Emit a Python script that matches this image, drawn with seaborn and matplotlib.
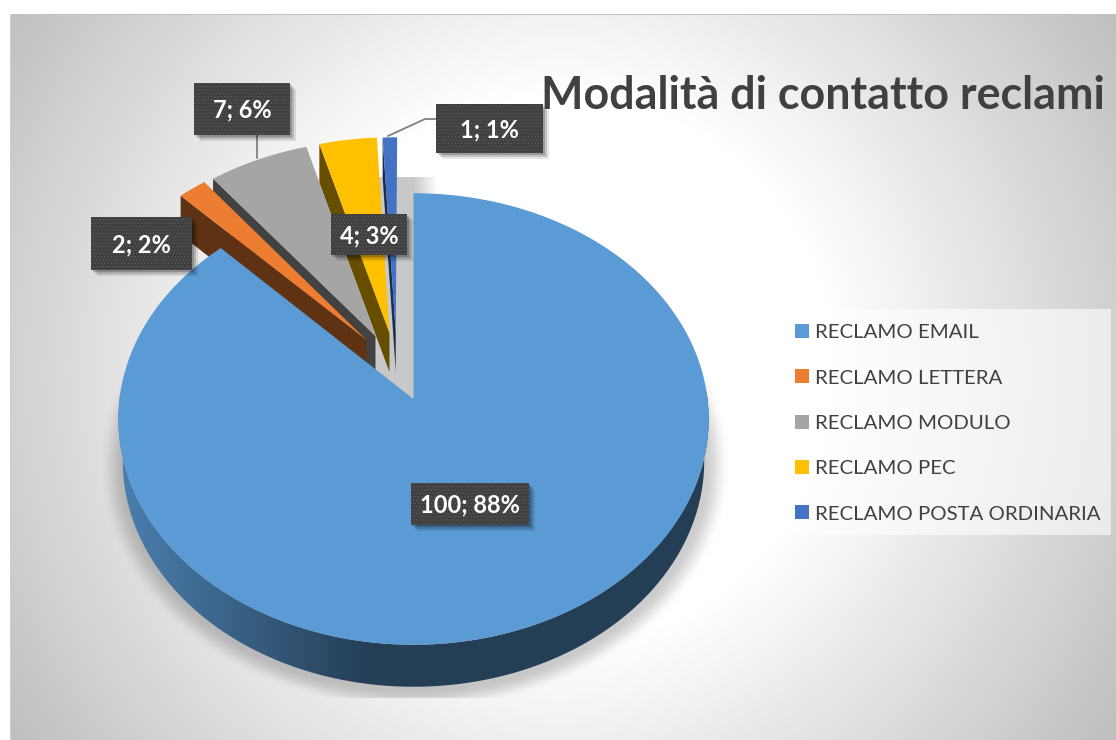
import numpy as np
import seaborn as sns
import matplotlib.pyplot as plt
from matplotlib.patches import Patch, Polygon, Rectangle

categories = ['RECLAMO EMAIL', 'RECLAMO LETTERA', 'RECLAMO MODULO', 'RECLAMO PEC', 'RECLAMO POSTA ORDINARIA']
values = [100, 2, 7, 4, 1]
percents = [88, 2, 6, 3, 1]
hex_colors = ['#5B9BD5', '#ED7D31', '#A5A5A5', '#FFC000', '#4472C4']
title = 'Modalità di contatto reclami'

# exploded slice apexes on the unit disc, before the tilt
apexes = [(0, 0), (-0.164, 0.27), (-0.1325, 0.288), (-0.084, 0.303), (-0.062, 0.303)]
# label boxes: left, top, right, bottom in pixels
boxes = [(411, 483, 529, 525), (91, 217, 192, 270), (194, 83, 290, 135), (331, 214, 407, 255), (436, 104, 543, 153)]

W, H = 1116, 740
CX, CY, A, B, K = 413.5, 399, 294, 224, 0.0885
DEPTH = 39

sns.set_theme(style='white')
plt.rcParams['font.family'] = ['Lato', 'DejaVu Sans']
plt.rcParams['hatch.linewidth'] = 0.6
palette = sns.color_palette(hex_colors)

fig = plt.figure(figsize=(W / 100, H / 100), dpi=100)
ax = fig.add_axes([0, 0, 1, 1])

# pie gives the angles, the tilt is applied afterwards
wedges, _ = ax.pie(values, startangle=90, counterclock=False)
angles = [(w.theta1, w.theta2) for w in wedges]
for w in wedges:
    w.remove()


def project(u, v):
    d = 1 + K * v
    return CX + A * u / d, CY - B * v / d


def arc(apex, t1, t2, n=200):
    t = np.radians(np.linspace(t1, t2, n))
    return project(apex[0] + np.cos(t), apex[1] + np.sin(t))


# radial background and the pie shadow
yy, xx = np.mgrid[0:H, 0:W]
dist = np.hypot(xx - 560.0, yy - 370.0)
bg = 255 - 64 * np.clip((dist - 275) / 386, 0, 1)

ell = np.hypot((xx - 414) / 316, (yy - 465) / 245)
s = np.clip((1.0 - ell) / 0.085, 0, 1)
shadow = s * s * (3 - 2 * s) * 0.2
shadow[(yy < 177) | (yy > 697)] = 0
bg = bg * (1 - shadow)
gap = (yy >= 177) & (yy < 400) & (xx >= 377) & (xx < 413)
bg[gap] = 200
fade = (yy >= 177) & (yy < 400) & (xx >= 413) & (xx < 437)
mix = (xx[fade] - 413) / 24
bg[fade] = 200 * (1 - mix) + bg[fade] * mix
bg[:14, :] = 255
bg[:, :10] = 255
bg[14:15, 10:] = 192
bg[14:, 10:11] = 205
ax.imshow(np.dstack([bg, bg, bg]).astype(np.uint8), extent=(0, W, H, 0), aspect='auto', zorder=0, interpolation='nearest')

# exploded slices, back to front
for i in [4, 3, 2, 1]:
    t1, t2 = angles[i]
    color = np.array(palette[i])
    ax0, ay0 = project(*apexes[i])
    xs, ys = arc(apexes[i], t1, t2)
    # theta1 is the clockwise-most edge, whichever lies on the left gets the side face
    lx, ly = (xs[-1], ys[-1]) if xs[-1] < xs[0] else (xs[0], ys[0])
    side = [(lx, ly), (ax0, ay0), (ax0, ay0 + DEPTH), (lx, ly + DEPTH)]
    ax.add_patch(Polygon(side, fc=color * 0.4, ec='none', zorder=2 + 0.1 * (5 - i)))
    top = np.column_stack([np.r_[ax0, xs], np.r_[ay0, ys]])
    ax.add_patch(Polygon(top, fc=color, ec='none', zorder=2.05 + 0.1 * (5 - i)))

# big slice: rim with a left to right shade, then the top face
base = np.array(palette[0])
rim_x, rim_y = arc(apexes[0], 178, 362)
# lower edge of the rim is a bit narrower, perspective
low_x = CX + (rim_x - CX) * 0.985
rim = np.column_stack([np.r_[rim_x, low_x[::-1]], np.r_[rim_y, rim_y[::-1] + DEPTH + 3]])
rim_patch = Polygon(rim, fc='none', ec='none', zorder=3, transform=ax.transData)
ax.add_patch(rim_patch)
shade = np.interp(np.arange(W), [120, 370], [0.82, 0.4])
rim_img = np.clip(np.outer(shade, base).reshape(1, W, 3), 0, 1)
im = ax.imshow(rim_img, extent=(0, W, H, 0), aspect='auto', zorder=3)
im.set_clip_path(rim_patch)

t1, t2 = angles[0]
xs, ys = arc(apexes[0], t1, t2, 500)
ax0, ay0 = project(*apexes[0])
ax.add_patch(Polygon(np.column_stack([np.r_[ax0, xs], np.r_[ay0, ys]]), fc=palette[0], ec='none', zorder=4))

# leader lines
ax.plot([257, 257], [135, 158], color='#7F7F7F', lw=1.3, zorder=3)
ax.plot([388, 425, 436], [136, 119, 119], color='#7F7F7F', lw=1.3, zorder=3)

# data labels
for i, (x0, y0, x1, y1) in enumerate(boxes):
    for off, al in [(6, 0.10), (4, 0.15), (2, 0.2)]:
        ax.add_patch(Rectangle((x0 + off, y0 + off), x1 - x0, y1 - y0, fc='black', ec='none', alpha=al, zorder=5))
    ax.add_patch(Rectangle((x0, y0), x1 - x0, y1 - y0, fc='#404040', ec='none', zorder=5.5))
    ax.add_patch(Rectangle((x0, y0), x1 - x0, y1 - y0, fc='none', ec='#595959', lw=0, hatch='.....', zorder=5.6))
    ax.text((x0 + x1) / 2, (y0 + y1) / 2 + 1, f'{values[i]}; {percents[i]}%', color='white', fontsize=17,
            fontweight='bold', ha='center', va='center', zorder=6)

ax.text(541, 109, title, color='#404040', fontsize=32.3, fontweight='bold', ha='left', va='baseline', zorder=6)

ax.set_xlim(0, W)
ax.set_ylim(H, 0)
ax.set_aspect('auto')

# legend frame drawn apart so its size is exact
ax.add_patch(Rectangle((782, 309), 329, 226, fc='white', ec='none', alpha=0.6, zorder=6.5))
handles = [Patch(fc=palette[i], ec='none', label=categories[i]) for i in range(5)]
leg = ax.legend(handles=handles, loc='upper left', bbox_to_anchor=(782 / W, 1 - 311 / H), borderaxespad=0,
                frameon=False, fontsize=14.7, labelcolor='#404040', handlelength=0.68, handleheight=0.68,
                handletextpad=0.29, labelspacing=1.38, borderpad=0.64)
leg.set_zorder(7)

plt.savefig('out.png', dpi=100)
plt.close()
